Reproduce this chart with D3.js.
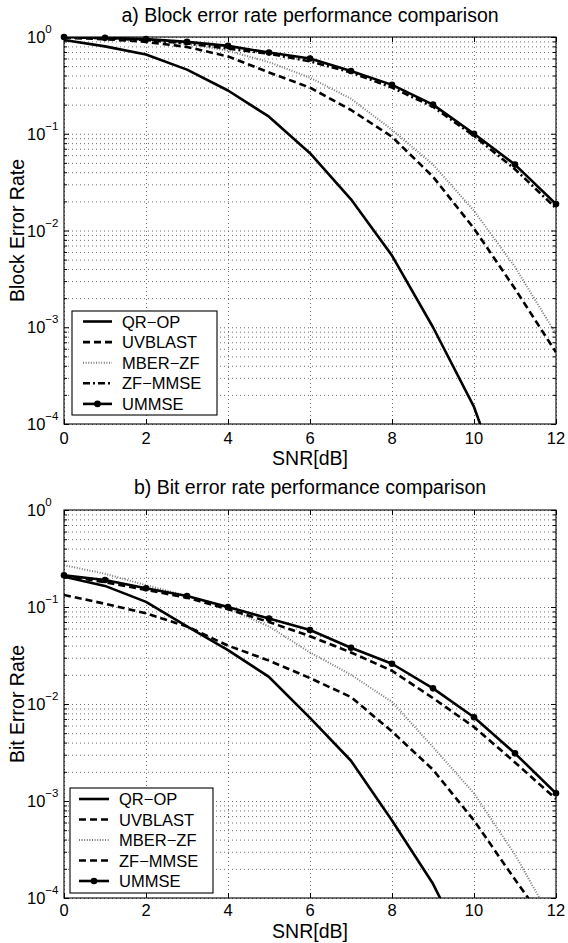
<!DOCTYPE html>
<html>
<head>
<meta charset="utf-8">
<script src="https://cdn.jsdelivr.net/npm/d3@7/dist/d3.min.js"></script>
<style>
  body { margin: 0; background: #fff; }
  text { font-family: "Liberation Sans", Arial, Helvetica, sans-serif; fill: #000; }
</style>
</head>
<body>
<svg id="chart" width="568" height="943"></svg>
<script>
// SNR in dB, x axis of both panels
const snr = [0, 1, 2, 3, 4, 5, 6, 7, 8, 9, 10, 11, 12]
const xTicks = [0, 2, 4, 6, 8, 10, 12]
const yMajor = [1e-4, 1e-3, 1e-2, 1e-1, 1]
const seriesNames = ["QR−OP", "UVBLAST", "MBER−ZF", "ZF−MMSE", "UMMSE"]

// a) block error rate
const qrop_bler    = [0.93, 0.80, 0.66, 0.46, 0.28, 0.15, 0.063, 0.021, 0.0055, 0.001, 1.5e-4, 1e-5, null]
const uvblast_bler = [0.98, 0.95, 0.89, 0.79, 0.63, 0.43, 0.30, 0.176, 0.093, 0.036, 0.0105, 0.0025, 5.5e-4]
const mberzf_bler  = [0.99, 0.97, 0.93, 0.85, 0.72, 0.55, 0.38, 0.23, 0.11, 0.048, 0.016, 0.0042, 8.5e-4]
const zfmmse_bler  = [1.0, 0.97, 0.93, 0.86, 0.76, 0.67, 0.56, 0.43, 0.30, 0.19, 0.095, 0.043, 0.017]
const ummse_bler   = [1.0, 0.98, 0.95, 0.89, 0.81, 0.69, 0.60, 0.445, 0.32, 0.20, 0.10, 0.048, 0.0188]

// b) bit error rate
const qrop_ber    = [0.205, 0.165, 0.113, 0.063, 0.036, 0.019, 0.0072, 0.0026, 6.3e-4, 1.4e-4, 2e-5, null, null]
const uvblast_ber = [0.133, 0.108, 0.086, 0.063, 0.040, 0.028, 0.0185, 0.0118, 0.0052, 0.0021, 6.3e-4, 1.55e-4, 4e-5]
const mberzf_ber  = [0.27, 0.22, 0.168, 0.13, 0.097, 0.063, 0.034, 0.020, 0.0105, 0.0036, 0.0012, 2.8e-4, 5e-5]
const zfmmse_ber  = [0.21, 0.18, 0.15, 0.125, 0.095, 0.07, 0.05, 0.034, 0.022, 0.0115, 0.0058, 0.0025, 0.00105]
const ummse_ber   = [0.212, 0.19, 0.156, 0.13, 0.10, 0.076, 0.058, 0.038, 0.026, 0.0145, 0.0073, 0.0031, 0.0012]

const svg = d3.select("#chart")

// line looks (matlab-ish)
const styles = {
  solid:   { stroke: "#000", width: 2.6, dash: null },
  dashed:  { stroke: "#000", width: 2.6, dash: "7,4" },
  dotted:  { stroke: "#7a7a7a", width: 2, dash: "1,1.6" },
  dashdot: { stroke: "#000", width: 2.6, dash: "7,3,2,3" },
}

function draw_panel(p) {
  const x = d3.scaleLinear().domain([0, 12]).range([p.left, p.right])
  const y = d3.scaleLog().domain([1e-4, 1]).range([p.bottom, p.top])
  const w = p.right - p.left
  const h = p.bottom - p.top
  const g = svg.append("g")
  const clipId = "clip" + p.id
  g.append("clipPath").attr("id", clipId)
    .append("rect").attr("x", p.left).attr("y", p.top).attr("width", w).attr("height", h)

  // grid, dotted
  const allY = y.ticks() // 1..9 for every decade
  g.append("g").attr("transform", `translate(${p.left},0)`)
    .call(d3.axisLeft(y).tickValues(allY).tickSize(-w).tickFormat(""))
    .call(s => s.select(".domain").remove())
    .call(s => s.selectAll("line").attr("stroke", "#6e6e6e").attr("stroke-dasharray", "1,3"))
  g.append("g").attr("transform", `translate(0,${p.bottom})`)
    .call(d3.axisBottom(x).tickValues(xTicks).tickSize(-h).tickFormat(""))
    .call(s => s.select(".domain").remove())
    .call(s => s.selectAll("line").attr("stroke", "#6e6e6e").attr("stroke-dasharray", "1,3"))

  // inward ticks on all four sides
  const minorY = allY.filter(v => !yMajor.includes(v))
  const tickSets = [
    [d3.axisLeft(y).tickValues(yMajor).tickSize(-5), `translate(${p.left},0)`],
    [d3.axisLeft(y).tickValues(minorY).tickSize(-3), `translate(${p.left},0)`],
    [d3.axisRight(y).tickValues(yMajor).tickSize(-5), `translate(${p.right},0)`],
    [d3.axisRight(y).tickValues(minorY).tickSize(-3), `translate(${p.right},0)`],
    [d3.axisBottom(x).tickValues(xTicks).tickSize(-5), `translate(0,${p.bottom})`],
    [d3.axisTop(x).tickValues(xTicks).tickSize(-5), `translate(0,${p.top})`],
  ]
  tickSets.forEach(([ax, tr]) => {
    g.append("g").attr("transform", tr)
      .call(ax.tickFormat(""))
      .call(s => s.select(".domain").remove())
      .call(s => s.selectAll("line").attr("stroke", "#000"))
  })

  // series
  const line = d3.line()
    .defined(d => d.v !== null)
    .x(d => x(d.x))
    .y(d => y(d.v))
  const lines = g.append("g").attr("clip-path", `url(#${clipId})`)
  p.series.forEach(s => {
    const st = styles[s.style]
    const pts = snr.map((v, i) => ({ x: v, v: s.values[i] }))
    lines.append("path")
      .attr("d", line(pts))
      .attr("fill", "none")
      .attr("stroke", st.stroke)
      .attr("stroke-width", st.width)
      .attr("stroke-dasharray", st.dash)
      .attr("stroke-linejoin", "round")
    if (s.marker) {
      g.append("g").selectAll("circle")
        .data(pts.filter(d => d.v !== null && d.v >= 1e-4))
        .join("circle")
        .attr("cx", d => x(d.x))
        .attr("cy", d => y(d.v))
        .attr("r", 3.3)
        .attr("fill", "#000")
    }
  })

  // box
  g.append("rect").attr("x", p.left).attr("y", p.top).attr("width", w).attr("height", h)
    .attr("fill", "none").attr("stroke", "#000").attr("stroke-width", 1.1)

  // tick labels
  g.append("g").selectAll("text")
    .data(xTicks)
    .join("text")
    .attr("x", d => x(d))
    .attr("y", p.xtickY)
    .attr("text-anchor", "middle")
    .attr("font-size", 16.5)
    .text(d => d)
  const yl = g.append("g").selectAll("text")
    .data(yMajor)
    .join("text")
    .attr("x", 27)
    .attr("y", d => y(d) + 6)
    .attr("font-size", 16.5)
  yl.append("tspan").text("10")
  yl.append("tspan").attr("dy", -10).attr("font-size", 11.5)
    .text(d => { const e = Math.round(Math.log10(d)); return e < 0 ? "−" + (-e) : e })

  // titles and axis labels
  g.append("text").attr("x", (p.left + p.right) / 2).attr("y", p.titleY)
    .attr("text-anchor", "middle").attr("font-size", 19.5).text(p.title)
  g.append("text").attr("x", (p.left + p.right) / 2).attr("y", p.xlabelY)
    .attr("text-anchor", "middle").attr("font-size", 19.5).text("SNR[dB]")
  g.append("text")
    .attr("transform", `translate(24,${(p.top + p.bottom) / 2}) rotate(-90)`)
    .attr("text-anchor", "middle").attr("font-size", 19.5).text(p.ylabel)

  // legend
  const L = p.legend
  const lg = g.append("g")
  lg.append("rect").attr("x", L.x).attr("y", L.y).attr("width", L.w).attr("height", L.h)
    .attr("fill", "#fff").attr("stroke", "#000").attr("stroke-width", 1.1)
  p.series.forEach((s, i) => {
    const st = styles[s.style]
    const cy = L.row0 + i * L.step
    lg.append("line")
      .attr("x1", L.lx0).attr("x2", L.lx1).attr("y1", cy).attr("y2", cy)
      .attr("stroke", st.stroke).attr("stroke-width", st.width).attr("stroke-dasharray", st.dash)
    if (s.marker) {
      lg.append("circle").attr("cx", (L.lx0 + L.lx1) / 2).attr("cy", cy).attr("r", 3.3).attr("fill", "#000")
    }
    lg.append("text").attr("x", L.tx).attr("y", cy + 6).attr("font-size", 16.5).text(seriesNames[i])
  })
}

draw_panel({
  id: "a", left: 64, right: 556, top: 37, bottom: 424,
  titleY: 22, xtickY: 444, xlabelY: 465,
  title: "a) Block error rate performance comparison",
  ylabel: "Block Error Rate",
  legend: { x: 72, y: 311, w: 145, h: 104, row0: 321.5, step: 20.6, lx0: 83, lx1: 112, tx: 122 },
  series: [
    { values: qrop_bler, style: "solid" },
    { values: uvblast_bler, style: "dashed" },
    { values: mberzf_bler, style: "dotted" },
    { values: zfmmse_bler, style: "dashdot" },
    { values: ummse_bler, style: "solid", marker: true },
  ]
})

draw_panel({
  id: "b", left: 64, right: 556, top: 510, bottom: 898,
  titleY: 494, xtickY: 916, xlabelY: 938,
  title: "b) Bit error rate performance comparison",
  ylabel: "Bit Error Rate",
  legend: { x: 70, y: 788, w: 143, h: 105, row0: 799, step: 20.5, lx0: 79, lx1: 109, tx: 119 },
  series: [
    { values: qrop_ber, style: "solid" },
    { values: uvblast_ber, style: "dashed" },
    { values: mberzf_ber, style: "dotted" },
    { values: zfmmse_ber, style: "dashed" },
    { values: ummse_ber, style: "solid", marker: true },
  ]
})
</script>
</body>
</html>
